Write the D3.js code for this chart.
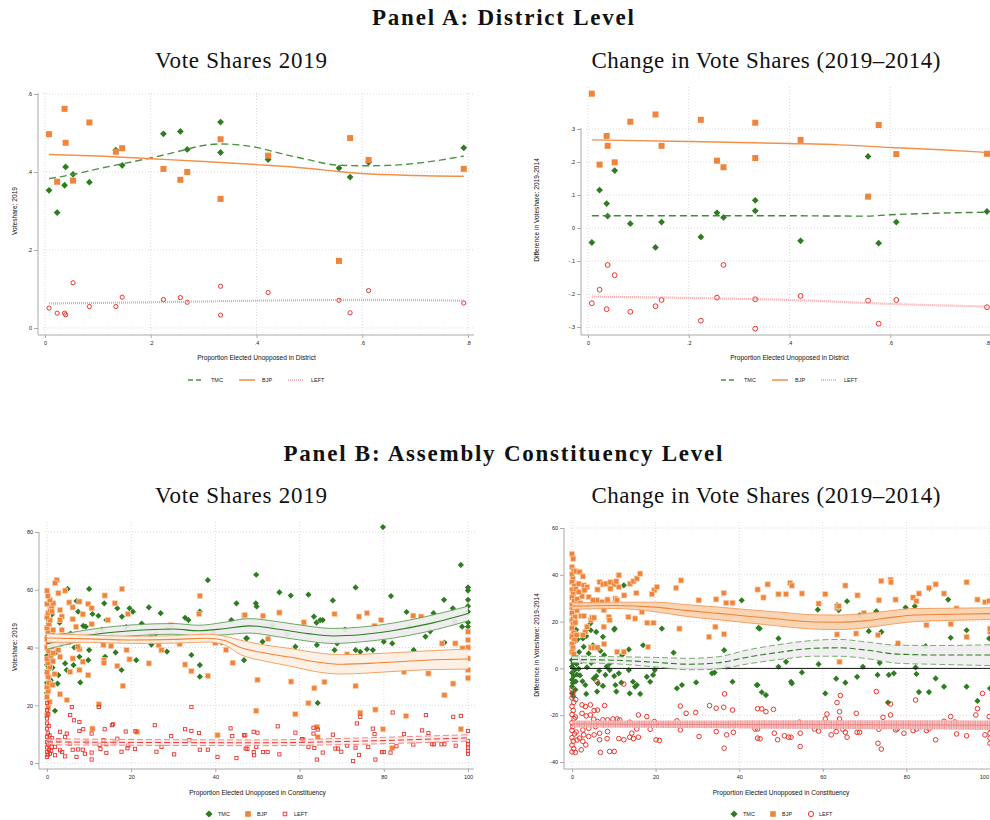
<!DOCTYPE html>
<html><head><meta charset="utf-8">
<script src="https://cdn.jsdelivr.net/npm/d3@7"></script>
<style>body{margin:0;background:#fff;} svg{display:block;}</style>
</head><body>
<script>
// ---------------- DATA ----------------
// Panel A (district level): shared x = proportion elected unopposed
const aX = [0.0076,0.023,0.037,0.039,0.053,0.084,0.134,0.146,0.224,0.256,0.269,0.332,0.332,0.422,0.556,0.577,0.612,0.792];
const aVsTmc  = [0.353,0.296,0.366,0.413,0.394,0.374,0.456,0.417,0.498,0.504,0.458,0.528,0.450,0.432,0.410,0.387,0.425,0.462];
const aVsBjp  = [0.497,0.375,0.562,0.475,0.378,0.527,0.452,0.461,0.408,0.380,0.400,0.484,0.331,0.442,0.172,0.487,0.431,0.408];
const aVsLeft = [0.051,0.038,0.038,0.034,0.116,0.055,0.055,0.079,0.073,0.078,0.066,0.107,0.033,0.091,0.071,0.039,0.096,0.064];
const aChTmc  = [-0.044,0.115,0.074,0.036,0.174,0.013,-0.059,0.018,-0.027,0.046,0.032,0.084,0.052,-0.039,0.217,-0.046,0.018,0.050];
const aChBjp  = [0.407,0.192,0.279,0.249,0.199,0.322,0.344,0.249,0.328,0.204,0.184,0.319,0.212,0.267,0.095,0.312,0.224,0.225];
const aChLeft = [-0.228,-0.187,-0.246,-0.112,-0.143,-0.254,-0.237,-0.218,-0.281,-0.211,-0.112,-0.216,-0.305,-0.206,-0.220,-0.290,-0.218,-0.240];
// Panel A fitted lines
const aVsTmcFitX = [0.0076,0.05,0.1,0.15,0.2,0.25,0.3,0.33,0.4,0.45,0.5,0.55,0.6,0.65,0.7,0.75,0.792];
const aVsTmcFit  = [0.383,0.393,0.408,0.422,0.436,0.452,0.468,0.472,0.463,0.446,0.431,0.418,0.416,0.417,0.422,0.431,0.441];
const aVsBjpFitX = [0.0076,0.1,0.2,0.3,0.4,0.5,0.55,0.6,0.7,0.792];
const aVsBjpFit  = [0.445,0.441,0.434,0.427,0.419,0.409,0.402,0.396,0.391,0.389];
const aVsLeftFitX = [0.0076,0.2,0.4,0.6,0.792];
const aVsLeftFit  = [0.063,0.066,0.070,0.072,0.070];
const aChBjpFitX = [0.0076,0.2,0.4,0.5,0.6,0.7,0.792];
const aChBjpFit  = [0.267,0.262,0.256,0.252,0.244,0.237,0.229];
const aChTmcFitX = [0.0076,0.2,0.4,0.55,0.6,0.7,0.792];
const aChTmcFit  = [0.037,0.037,0.037,0.036,0.040,0.045,0.048];
const aChLeftFitX = [0.0076,0.2,0.4,0.6,0.792];
const aChLeftFit  = [-0.208,-0.212,-0.218,-0.230,-0.238];
const aXTicks = [0,0.2,0.4,0.6,0.8];
const aVsYTicks = [0,0.2,0.4,0.6];
const aChYTicks = [-0.3,-0.2,-0.1,0,0.1,0.2,0.3];

// Panel B (assembly constituency level): [x, y] pairs
const bVsTmc = [[0,24.3],[0.2,26.5],[0,27.8],[0.3,29.9],[0,31.2],[0.5,32.6],[0,34],[0.2,35.8],[0,37.1],[0.6,38.4],[0,40.2],[0.3,42],[0,43.6],[0.8,45.1],[0,46.7],[0.4,48.3],[0,50.2],[1.2,51.5],[0.5,47.8],[0.1,39.3],[1,36],[1.3,33],[0.9,28.7],[1.5,44.2],[1.1,41.6],
[1.9,18.1],[2.5,27.5],[2.7,30.4],[4.3,34.5],[4.7,32.2],[6.3,33.9],[7.7,36.8],[9.8,35.6],[10,39.1],[13.8,36.8],[16.3,38.3],[17.7,32.2],[21.2,35.6],[7.9,27.9],[4.9,60.3],[10,60.3],[7,56.1],[24.2,53.9],[27,51.9],[19.6,53.6],[20.4,52.4],[16.7,53.6],[13.6,55.3],[12.2,51],[10.8,51.6],[7.4,52.4],[8.6,47.5],[9.2,47.2],[13,46.1],[17.8,50.7],[14.1,49.5],[32.8,50.3],[33.6,49.5],[36.3,52.4],[45,55.3],[43.8,49.5],[36.3,33.9],[36.3,29.9],[34.3,37.4],[47.3,43.2],[38.2,63.3],[2.2,38.5],[3.4,41.3],[5.6,44.8],[3,48.6],[6.5,40],[11.5,42.6],[15.3,44.1],[18.8,47.1],[22.5,48.3],[25.8,44.8],[29,46.8],[31,42.5],[39.5,45.2],[41.5,41.8],[28.5,38.6],[24.8,41],
[49.7,65.2],[49.6,55.3],[49.8,54.2],[55.2,59.1],[57.9,58],[62.1,58.3],[67.9,56.3],[73.3,60.8],[79.8,81.7],[81.7,57.8],[85.4,52.3],[91.8,51.9],[94.3,56.5],[96.4,53.6],[98.3,68.6],[100,60.8],[100,59.7],[100,56.5],[100,48.7],[100,47.2],[98.6,47.2],[96.9,49],[63.4,50.7],[64,48.6],[64.9,49.5],[65.5,49.5],[47.5,43.2],[51.2,42],[59,40.3],[64.1,40.9],[68.3,39.1],[68.9,41.4],[73.3,39.1],[74.4,38.5],[76,39.4],[77.4,39.1],[80,42],[82,41.4],[87.1,39.1],[94.4,41.7],[64.3,20.8],[46.8,35.6],[89.9,43.8],[100,52.4],[100,54.3],[53.5,47.6],[70.8,46.2],[86,47.1],[91,45.6],[57,44.6]];
const bVsBjp = [[0,16.6],[0.3,19.2],[0.6,21.2],[0,22.8],[0.3,24.9],[0,26.4],[0.5,27.7],[0.3,29.9],[0,31.4],[0.7,33.3],[0.2,34.6],[0,36.1],[0.9,37.2],[0.4,38.9],[0,40.1],[1.1,40.3],[0.3,41.7],[0,42.9],[0.6,44.4],[0.2,45.5],[0,46.8],[1.5,46.1],[0.4,48.1],[0.7,49.5],[0,50.6],[0.3,51.9],[0.8,53.1],[1.1,54.2],[0,55.1],[1.5,55.3],[0.7,56.5],[0,59.7],[0.2,57.8],[1.2,52.5],[1.6,43.2],[1.4,35.2],[1.8,30.8],[1.3,27.1],
[2.3,63.4],[1.9,62.3],[2.7,58.8],[3.1,53],[3.5,50.7],[3.1,49.5],[3.5,46.1],[1.5,38],[2.7,39.1],[3.1,36.8],[3.1,23.8],[4.7,21.8],[5.5,31.6],[6.1,36.2],[6.1,49.8],[5.3,55.6],[6.1,53.9],[4.3,59.7],[7.7,55.9],[8.5,51.5],[6.9,47.2],[7.7,39.4],[7.3,40.3],[7.7,32.2],[8.5,35.1],[9.8,55.1],[10.6,48.1],[9.8,30.4],[10.6,53.6],[12.3,20.3],[10.8,11.9],[13.7,58],[13.5,35.6],[13.5,34.7],[13.4,40.9],[14.5,49.5],[16.1,55.3],[16.7,33.6],[15.2,40.5],[17.8,60.3],[18,26.7],[18.9,39.1],[19.2,51.6],[19.6,35.9],[21.4,10.8],[24.2,34.5],[32.8,34.1],[34.3,31.8],[36.3,57.9],[36.1,51.6],[38.2,30.2],[40.5,9.6],[29.5,47.8],[24.8,44.3],[27.2,39.1],[44.1,34.7],[46.8,51],[4.2,44],[5,41.8],[9.2,43.5],[12,45.2],[21.8,42.6],[26.5,40.8],[31.5,41.2],[36.5,44.3],[40,41.6],[42.5,39.2],
[47,51.3],[51.3,51],[55.2,52.1],[50,28.8],[49.7,18.1],[58,28.2],[59,16.9],[61,48.7],[62.1,20.7],[63.5,25.9],[65.9,28.1],[64.1,12.5],[64.3,9],[68.3,51.6],[71.3,37.6],[73.3,26.7],[74.1,50.7],[76,51.9],[77.8,47.5],[79.4,49.5],[78,18.5],[74.4,17.4],[79.8,11.7],[85.3,16.3],[82,5.2],[84.8,31.6],[87,51],[90.6,31],[93.8,41.4],[94.4,23.5],[96.5,27.5],[97,41.4],[98.3,11.7],[98.7,39.7],[100,45.5],[100,42.6],[100,36.2],[100,32.2],[100,29.4],[100,40],[88.9,50.7],[56.5,37],[66.5,33.5],[83,36.8],[52.5,43]];
const bVsLeft = [[0,20.8],[0,18.3],[0,15.4],[0,13.7],[0,11.9],[0.2,10.3],[0,9.1],[0.4,8],[0,7.2],[0.3,6.3],[0,5.4],[0.5,4.6],[0,3.8],[0.2,2.9],[0,2.1],[0.6,9.6],[0.8,6.9],[0.4,12.8],[0.3,16.9],[1,4.2],[1.2,8.6],
[5.9,19.4],[5.5,16.6],[6.4,14.8],[7.7,14.2],[7.7,11.1],[8.6,11.7],[3.1,10.8],[4.7,10.2],[10.6,10.2],[12.3,19.4],[13.7,11.7],[15.4,13.1],[15.7,13.4],[18.7,10.9],[21,11],[25.6,13.1],[32.8,11.7],[34.3,11.1],[36.1,10.4],[34.3,19.4],[29.5,9.3],[33.8,7.9],[36.3,4.6],[26,3.9],[30.2,3],[27.2,5.6],[38.2,4.6],[40.5,2.1],[43.6,12],[44,9.3],[45,1.7],[47.2,5],[46.8,9.6],[10.6,1.2],[10.6,3.6],[12.7,4.9],[12.5,6.3],[14.1,3.5],[14.1,6.5],[16.1,7.1],[16.7,8.4],[17.7,3.9],[19.3,6.1],[19.1,5.1],[20.9,4.9],[13.4,7.9],[7,2.1],[9.4,7.3],[7.4,4.7],[8.5,4.6],[6.1,4.6],[4.3,2.3],[3.6,3.8],[1.9,5.6],[2.7,7.9],[1.9,2.7],[0.7,3.2],[3.1,4.4],[5.5,6.7],[4.3,9],[9,3.2],[0.7,7.9],[1.1,5.6],
[47.1,9.6],[49.1,10.8],[50,10.5],[54.8,12.7],[59,10.5],[60.6,8.3],[63.3,12.2],[64.3,11.6],[63.3,10.2],[67.9,9.8],[47.6,4.9],[49.1,3.8],[49.2,2.7],[51.3,3.8],[52.4,3.8],[55.2,3],[62.1,5.6],[63.5,5.2],[65.5,3.6],[64.1,1.2],[68.5,5],[69.1,5],[69.9,3.9],[71.3,6],[72.7,0.7],[73.3,5.3],[74.1,2.8],[73.6,13.7],[74.4,16],[76.3,5.6],[77.4,11.9],[77.8,10],[78,1.2],[79.6,3.8],[80,3.8],[81.6,3.6],[82.1,17.5],[83,5.8],[84.8,10],[87,6.4],[89.1,11.3],[90,16.6],[90.6,10.4],[91.5,6.5],[91.9,6.5],[93.7,6.5],[94.4,6.5],[96.5,16],[98.3,16.3],[97.1,6],[100,11.1],[100,7.6],[100,6.5],[100,5.3],[100,4.2],[100,3.2],[60.9,8.1],[49.7,5.6]];

const bChTmc = [[0,25.8],[0.2,23.1],[0,21],[0.4,19.3],[0,17.2],[0.3,15],[0,13.1],[0.6,11.4],[0,9.8],[0.2,8.2],[0,6.7],[0.5,5.1],[0,3.6],[0.3,2.2],[0,0.8],[0.7,-0.6],[0,-1.9],[0.4,-3.3],[0,-4.8],[0.2,-6.2],[0,-7.7],[0.8,-9.1],[0,-10.6],[0.3,-11.9],[1.2,-2.6],[1.1,1.9],[1.4,4.4],[0.9,-5.6],[1.6,-0.2],[1.3,12.3],[1,16.5],
[12.4,35.5],[2.6,12.8],[4.5,16.3],[5.8,15.6],[7.4,13.5],[10.1,16.6],[5,9.9],[2.8,9.2],[6.8,7.5],[4,6.4],[7.7,5.7],[9,2.1],[9,-0.7],[11.2,-2.1],[10.1,-3.3],[8,-2.8],[5.8,-3.3],[5.2,-4.3],[3.2,-7.1],[3.4,-10.9],[6,-9.9],[6.2,-6.4],[7.4,-7.5],[10.6,-9.9],[10.4,-7.1],[11.8,-6.1],[13.8,-10.7],[13.6,-0.7],[14.6,-5.7],[15.1,-7.8],[16.3,-10.9],[15.5,-7.1],[17.9,-3.6],[18.7,-5.7],[19.4,-2.8],[19.8,-0.7],[17,9.9],[13.6,8.1],[10.2,17],[21.5,17],[24.3,6.7],[25.1,-8.5],[26.3,-7.1],[29.7,-6],[33.5,-2.1],[34.1,-1.8],[36.4,7.8],[37,0.7],[38.4,-5.7],[40.6,29.1],[44.4,-7.1],[44.9,17],[4.4,19.2],[3.4,13.8],[12,5.7],[2.2,3.1],[3.6,0.5],[1.9,-3],[2.5,-5.5],[4.6,2.4],[6.5,-1],[8.3,0.8],[1.7,7],
[44.2,-7.1],[44.6,17.3],[45.4,-10.2],[46.4,-11.4],[49.4,12.8],[49.4,0.7],[51.2,2.8],[52.4,-5.7],[52.6,-6.4],[55,-1.7],[58.8,25.1],[59,1.8],[60.6,-10.7],[63.4,27],[63.8,24.9],[63.2,-4.4],[65.4,-6.1],[65.8,28.7],[68.2,-3.6],[68.8,22.7],[69.6,0.7],[71,15.9],[72.8,24.4],[73.1,-2.8],[73.6,2.4],[74,15.6],[75.8,-2.8],[75.6,-14.6],[77,-2.1],[79.8,26],[82,26.6],[82.2,0.4],[82.4,-2.4],[83,-10.1],[84.6,9.5],[85.4,-10.1],[85.5,34.1],[87,-4.3],[89,-7.8],[90,29.4],[90.6,13.1],[94.4,-7.8],[94.4,16.3],[97,-13.9],[99.8,12.8],[100,-8.5]];
const bChBjp = [[0,48.9],[0.3,46.9],[0,43.3],[0.4,41.8],[0,40.1],[0.2,38.3],[0,36.9],[0.6,35.2],[0,33.6],[0.3,31.9],[0,30.3],[0.5,28.7],[0,27.1],[0.2,25.4],[0,23.6],[0.7,22],[0,20.4],[0.3,18.9],[0,17.1],[0.4,15.2],[0,13.6],[0.6,12],[0,10.4],[0.2,8.8],[0,7.1],[0.4,6.2],[1,41.5],[0.9,33.9],[1.2,24.8],[0.8,19.6],[1.1,14.3],[1.3,29.6],
[1.8,41.2],[2.6,39.3],[1.6,36.2],[2.8,35.5],[3.6,34.8],[3,33.4],[4,30.5],[2.4,30.8],[1.6,32.7],[2.2,22.4],[2.8,22.4],[4.5,20.6],[4.8,21.7],[5.3,21.7],[3.6,17.8],[3.2,15.6],[2.6,14.2],[4.5,8.9],[5.3,8.9],[6.1,8.9],[6.6,36.9],[6.1,33.7],[7.4,35.9],[8.2,36.2],[9.2,36.8],[10.1,35.9],[10.6,37.2],[11.2,34.8],[9.2,34.1],[6,29.1],[7.2,28.4],[8.5,29.4],[10.4,29.8],[10.8,29.1],[7.6,24.9],[8.8,22],[9,20.6],[7.6,17.8],[7.7,10.4],[10.8,7.1],[12.4,7.1],[11.2,39.8],[12.5,31.2],[13.9,36.2],[14.7,37.2],[15.5,38.4],[16.3,40.5],[15.4,32.2],[13.5,22],[15.1,21.3],[16.7,24.1],[18,19.5],[19.5,19.5],[19.7,33.4],[20.3,34.8],[19.1,31.7],[18.2,9.2],[24.9,34.4],[26.1,37.6],[25.7,17],[30.3,29.1],[32.8,13.5],[34.3,17.8],[34.5,29.5],[36.3,32.2],[36.4,14.6],[36.9,28],[38.4,28],[44.4,33.7],[5,29.1],[3.8,26.5],[2,27.8],
[45.8,30.3],[46.8,35.9],[49.4,31.7],[51.2,31.7],[52.2,36.5],[52.6,35.4],[55,32],[59,27.7],[60.6,31.7],[63.4,26],[63.8,26.6],[65.4,35.4],[63.4,14.5],[64,2.8],[68,14.9],[68.3,31.2],[69.8,23.7],[73.2,14.2],[73.4,29.1],[74,37.4],[76.2,37.9],[76.3,36.8],[77.4,29.4],[81.6,30.3],[82.4,28.7],[83,32],[84.8,18.5],[85.4,34.4],[87,35.9],[89,32],[90.6,18.9],[92,25.6],[94.4,36.8],[94.4,13.5],[97,29.4],[98.8,28.3],[99.8,28.8],[100,15.6],[100,17],[78,10.7]];
const bChLeft = [[0,-9],[0.2,-10.8],[0,-12.6],[0.4,-14.5],[0,-16.2],[0.3,-18],[0,-19.7],[0.5,-21.5],[0,-23.2],[0.2,-24.8],[0,-26.5],[0.6,-28],[0,-29.6],[0.3,-31.1],[0,-32.8],[0.4,-34.3],[0,-35.7],[0.8,-20.8],[1,-27.2],[0.9,-13.3],[1.2,-30.6],
[6,-5.7],[12.4,-6.7],[2.4,-15.6],[3.2,-16.3],[4.4,-15.6],[5.3,-18],[6.1,-17.8],[7.8,-15.9],[2.4,-19.2],[3.4,-20.3],[4.4,-19.9],[5.2,-21.7],[6.1,-22.7],[7.4,-22],[8.5,-22],[9.8,-21.6],[10.8,-21.6],[11.4,-22],[9.2,-23.4],[7.7,-24.1],[5.6,-24.9],[4,-25.6],[2.6,-26.3],[2.8,-28.4],[4,-29.1],[5.3,-28.4],[6.6,-27.7],[8.5,-27],[1.8,-29.8],[2.6,-31.2],[3.3,-32.7],[2.2,-34.8],[0.8,-35.9],[6.8,-35.9],[9,-35.5],[10.1,-35.5],[6.6,-30.5],[8.4,-30],[11.2,-30],[12.4,-30.5],[13.8,-29.4],[14.7,-30],[15.9,-29.4],[15.5,-25.9],[14.3,-27.7],[13.8,-23],[15.9,-19.9],[17.9,-20.6],[18.7,-26],[19.7,-22.7],[20.1,-30.5],[20.9,-30.8],[25.1,-22.4],[25.9,-26.3],[25.9,-16.1],[27.3,-19.2],[29.6,-18.8],[30.4,-29.1],[32.9,-15.9],[34.5,-17],[34.5,-27],[36.3,-16.6],[36.5,-10.9],[36.4,-34.1],[37,-28.4],[38.4,-17.8],[38.6,-27.3],[44.4,-17.2],[44.4,-25.9],[44.4,-29.8],
[45.4,-17.3],[46.4,-18.5],[48.2,-17.5],[43.8,-25.9],[45,-30.1],[48.4,-27.7],[49.2,-30.5],[50.8,-28.8],[51.8,-29.4],[52.4,-29.4],[54.6,-27.7],[54.6,-33.4],[54.4,-23],[58,-25.9],[59,-26.8],[60.6,-21.6],[61,-19.5],[62,-28.4],[63.2,-27],[63.4,-14.6],[64.2,-11.6],[64,-18.5],[64,-21.6],[64.8,-26],[65.4,-27.3],[65.8,-29.4],[68,-19.2],[68.2,-27.3],[68.8,-27.3],[72.8,-9.9],[73.2,-32],[74,-34.5],[73.4,-26],[74.4,-20.9],[76.2,-15.2],[76.2,-19.9],[77.4,-26.3],[77.8,-25.9],[79.4,-27.7],[81.6,-26.6],[82.2,-13.5],[82.4,-25.9],[84.8,-26.6],[85.4,-25.9],[87,-30.5],[89,-22.6],[90.6,-20.6],[91.6,-22.9],[92,-28],[94.4,-28.8],[96.6,-19.9],[97,-17.2],[98.2,-10.7],[98.8,-28.4],[99.8,-20.6],[100,-27.7],[100,-29.8],[100,-32],[100,-25.6]];

// Panel B local-polynomial fits with confidence bands
const bVsTmcBandX = [0,5,10,20,30,36,42,48,55,62,68,75,82,90,100];
const bVsTmcFit   = [41.3,43,44.3,45.8,46.4,45.8,46.5,47.5,46.3,44.8,44,44.5,45.8,48,51.8];
const bVsTmcLo    = [39.4,41.2,42.7,44,44.6,44,44.4,45,43.7,42.2,41.4,42,43.2,45.4,49.2];
const bVsTmcHi    = [44.1,45,46.2,47.8,48.3,47.7,48.7,50,48.9,47.4,46.6,47.1,48.4,50.7,54.3];
const bVsBjpBandX = [0,10,20,30,38,42,46,52,58,64,70,80,90,100];
const bVsBjpFit   = [43.3,43,42.6,42.8,43.2,42.5,40,38,36.6,35,34.2,34.8,35.6,36];
const bVsBjpLo    = [41.8,41.8,41.4,41.5,41.9,41,37.5,35.2,33.5,31.6,30.8,31.5,32.3,32.5];
const bVsBjpHi    = [44.8,44.3,43.9,44.1,44.6,44,42.5,40.8,39.6,38.2,37.5,38,38.8,39.5];
const bVsLeftBandX = [0,25,50,75,100];
const bVsLeftFit   = [7.3,7.1,7,7.6,8.7];
const bVsLeftLo    = [6.3,6.1,6,6.5,7.6];
const bVsLeftHi    = [8.4,8.1,8,8.7,9.8];
const bChBjpBandX = [0,10,20,27,35,42,50,58,64,70,76,82,90,100];
const bChBjpFit   = [26.6,26.9,26.2,24.8,23.5,22.3,21,19.8,19.7,20.3,21.7,22.8,23.1,23.4];
const bChBjpLo    = [25.2,25.6,24.2,22.3,20.8,19.5,18,16.8,16.6,17.3,18.8,20,20.5,20.9];
const bChBjpHi    = [28,28.3,28.3,27.3,26.2,25.1,24,22.9,22.8,23.4,24.6,25.6,25.7,25.9];
const bChTmcBandX = [0,10,20,28,35,42,50,58,64,70,78,88,100];
const bChTmcFit   = [3.8,3.5,2.6,1.8,2.4,4.8,7,8.6,8.8,7.9,6.1,5.7,5.7];
const bChTmcLo    = [2.4,2,0.6,-0.6,-0.2,1.9,3.9,5.2,5.2,4.3,2.2,1.7,1.2];
const bChTmcHi    = [5.3,5,4.7,4.3,5,7.9,10.3,12,12.4,11.4,9.9,9.8,10.1];
const bChLeftBandX = [0,25,50,75,100];
const bChLeftFit   = [-23.8,-23.9,-24,-24.1,-24.3];
const bChLeftLo    = [-25.3,-25.5,-25.8,-26,-26.3];
const bChLeftHi    = [-22.3,-22.3,-22.2,-22.2,-22.3];
const bXTicks = [0,20,40,60,80,100];
const bVsYTicks = [0,20,40,60,80];
const bChYTicks = [-40,-20,0,20,40,60];
const seriesNames = ["TMC","BJP","LEFT"];

// ---------------- DRAWING ----------------
const C = {tmc:"#2e7b22", bjp:"#f0843a", left:"#e8352c"};
const SANS = "'Liberation Sans', Arial, sans-serif";
const SERIF = "'Liberation Serif', 'Times New Roman', serif";
const svg = d3.select("body").append("svg").attr("width",990).attr("height",820);

const fmtDec = d => d===0 ? "0" : (d<0?"-":"") + Math.abs(d).toFixed(1).replace(/^0/,"");
const fmtInt = d => String(d);

function panel(o){
  const g = svg.append("g");
  const x = d3.scaleLinear().domain(o.xd).range(o.xr);
  const y = d3.scaleLinear().domain(o.yd).range(o.yr);
  const grid = g.append("g");
  grid.selectAll("line.h").data(o.yt).join("line").attr("class","h")
    .attr("x1",o.gx0).attr("x2",o.gx1).attr("y1",d=>y(d)).attr("y2",d=>y(d))
    .attr("stroke","#d2d2d2").attr("stroke-width",0.8).attr("stroke-dasharray","1,2");
  grid.selectAll("line.v").data(o.xt).join("line").attr("class","v")
    .attr("x1",d=>x(d)).attr("x2",d=>x(d)).attr("y1",o.gy0).attr("y2",o.axY)
    .attr("stroke","#d2d2d2").attr("stroke-width",0.8).attr("stroke-dasharray","1,2");
  g.append("line").attr("x1",o.axX).attr("x2",o.axX).attr("y1",o.ay0).attr("y2",o.axY).attr("stroke","#aaa").attr("stroke-width",1);
  g.append("line").attr("x1",o.axX).attr("x2",o.ax1).attr("y1",o.axY).attr("y2",o.axY).attr("stroke","#aaa").attr("stroke-width",1);
  const ya = g.append("g").attr("transform",`translate(${o.axX},0)`)
    .call(d3.axisLeft(y).tickValues(o.yt).tickFormat(o.fy).tickSize(4).tickPadding(2));
  const xa = g.append("g").attr("transform",`translate(0,${o.axY})`)
    .call(d3.axisBottom(x).tickValues(o.xt).tickFormat(o.fx).tickSize(3).tickPadding(3));
  [ya,xa].forEach(a=>{
    a.select(".domain").remove();
    a.selectAll("line").attr("stroke","#aaa");
    a.selectAll("text").attr("font-size",5.5).attr("fill","#222").attr("font-family",SANS);
  });
  // keep a tick label that would fall past the right edge inside the picture
  xa.selectAll(".tick").filter(d=>x(d)>984).select("text").attr("text-anchor","end").attr("dx",-1.5);
  g.append("text").attr("transform",`translate(${o.ytX},${o.ytY}) rotate(-90)`)
    .attr("text-anchor","middle").attr("font-family",SANS).attr("font-size",6.6).attr("fill","#111").text(o.ytitle);
  g.append("text").attr("x",(o.xr[0]+o.xr[1])/2).attr("y",o.xtY).attr("text-anchor","middle")
    .attr("font-family",SANS).attr("font-size",6.6).attr("fill","#111").text(o.xtitle);
  return {g,x,y};
}

const dPath = r => `M0,${-r}L${r},0L0,${r}L${-r},0Z`;
function diamonds(g,data,x,y,r){
  g.append("g").selectAll("path").data(data).join("path").attr("d",dPath(r))
    .attr("transform",d=>`translate(${x(d[0])},${y(d[1])})`).attr("fill",C.tmc);
}
function squares(g,data,x,y,s,halo){
  g.append("g").selectAll("rect").data(data).join("rect")
    .attr("x",d=>x(d[0])-s/2).attr("y",d=>y(d[1])-s/2).attr("width",s).attr("height",s)
    .attr("fill",C.bjp).attr("stroke",halo?"#fad2b2":"none").attr("stroke-width",halo?0.7:0);
}
function hollowSquares(g,data,x,y,s){
  g.append("g").selectAll("rect").data(data).join("rect")
    .attr("x",d=>x(d[0])-s/2).attr("y",d=>y(d[1])-s/2).attr("width",s).attr("height",s)
    .attr("fill","none").attr("stroke",C.left).attr("stroke-width",0.9);
}
function circles(g,data,x,y,r){
  g.append("g").selectAll("circle").data(data).join("circle")
    .attr("cx",d=>x(d[0])).attr("cy",d=>y(d[1])).attr("r",r)
    .attr("fill","none").attr("stroke",C.left).attr("stroke-width",1);
}
function fitLine(g,xs,ys,x,y,stroke,w,dash){
  const ln = d3.line().x(d=>x(d[0])).y(d=>y(d[1])).curve(d3.curveMonotoneX);
  g.append("path").datum(d3.zip(xs,ys)).attr("d",ln).attr("fill","none")
    .attr("stroke",stroke).attr("stroke-width",w).attr("stroke-dasharray",dash||null);
}
function band(g,xs,lo,hi,x,y,fill,op){
  const ar = d3.area().x(d=>x(d[0])).y0(d=>y(d[1])).y1(d=>y(d[2])).curve(d3.curveMonotoneX);
  g.append("path").datum(d3.zip(xs,lo,hi)).attr("d",ar).attr("fill",fill).attr("fill-opacity",op);
}

// hatch pattern for LEFT band (Panel B right)
const defs = svg.append("defs");
const pat = defs.append("pattern").attr("id","hatch").attr("patternUnits","userSpaceOnUse").attr("width",2.4).attr("height",10);
pat.append("rect").attr("width",2.4).attr("height",10).attr("fill","#f6caca");
pat.append("line").attr("x1",1).attr("x2",1).attr("y1",0).attr("y2",10).attr("stroke","#ec8a8a").attr("stroke-width",0.9);

// Titles
function title(txt,x,y,bold,len){
  const t = svg.append("text").attr("x",x).attr("y",y).attr("text-anchor","middle")
    .attr("font-family",SERIF).attr("font-size",23).attr("font-weight",bold?"bold":"normal").attr("fill","#111").text(txt);
  if(len) t.attr("textLength",len).attr("lengthAdjust","spacing");
}
title("Panel A: District Level",503,25,true,262);
title("Vote Shares 2019",241,68,false,172);
title("Change in Vote Shares (2019–2014)",766,68,false,349);
title("Panel B: Assembly Constituency Level",503,461,true,439);
title("Vote Shares 2019",241,503,false,172);
title("Change in Vote Shares (2019–2014)",766,503,false,349);

// ---------- Panel A left ----------
{
  const p = panel({xd:[0,0.8],xr:[45,468],yd:[0,0.6],yr:[328,94],xt:aXTicks,yt:aVsYTicks,fx:fmtDec,fy:fmtDec,
    gx0:43,gx1:475,gy0:93,axX:38,ax1:474,ay0:93,axY:335,ytX:17,ytY:211,ytitle:"Voteshare: 2019",xtY:360,
    xtitle:"Proportion Elected Unopposed in District"});
  diamonds(p.g,d3.zip(aX,aVsTmc),p.x,p.y,3.4);
  squares(p.g,d3.zip(aX,aVsBjp),p.x,p.y,6,false);
  circles(p.g,d3.zip(aX,aVsLeft),p.x,p.y,2.1);
  fitLine(p.g,aVsTmcFitX,aVsTmcFit,p.x,p.y,"#4a9440",1.4,"7,4");
  fitLine(p.g,aVsBjpFitX,aVsBjpFit,p.x,p.y,"#f2904a",1.4);
  fitLine(p.g,aVsLeftFitX,aVsLeftFit,p.x,p.y,"#f08a8a",2.2,"0.8,1.2");
}
// ---------- Panel A right ----------
{
  const p = panel({xd:[0,0.8],xr:[588,991],yd:[-0.3,0.3],yr:[327,129],xt:aXTicks,yt:aChYTicks,fx:fmtDec,fy:fmtDec,
    gx0:586,gx1:990,gy0:87,axX:581,ax1:990,ay0:128,axY:335,ytX:539,ytY:210,ytitle:"Difference in Voteshare: 2019-2014",xtY:360,
    xtitle:"Proportion Elected Unopposed in District"});
  diamonds(p.g,d3.zip(aX,aChTmc),p.x,p.y,3.4);
  squares(p.g,d3.zip(aX,aChBjp),p.x,p.y,6,false);
  circles(p.g,d3.zip(aX,aChLeft),p.x,p.y,2.4);
  fitLine(p.g,aChTmcFitX,aChTmcFit,p.x,p.y,"#3f8a35",1.4,"7,4");
  fitLine(p.g,aChBjpFitX,aChBjpFit,p.x,p.y,"#f2904a",1.4);
  fitLine(p.g,aChLeftFitX,aChLeftFit,p.x,p.y,"#f08a8a",2.2,"0.8,1.2");
}
// Panel A legends
function lineLegend(x0,yy){
  const g = svg.append("g");
  const st = [["#4a9440",1.4,"5,3"],["#f5a060",1.8,null],["#f0a0a0",2.2,"0.8,1.2"]];
  const offs = [0,51,100];
  seriesNames.forEach((n,i)=>{
    g.append("line").attr("x1",x0+offs[i]).attr("x2",x0+offs[i]+16).attr("y1",yy).attr("y2",yy)
      .attr("stroke",st[i][0]).attr("stroke-width",st[i][1]).attr("stroke-dasharray",st[i][2]);
    g.append("text").attr("x",x0+offs[i]+23).attr("y",yy+2).attr("font-family",SANS).attr("font-size",5.5).attr("fill","#222").text(n);
  });
}
lineLegend(188,380);
lineLegend(721,380);

// ---------- Panel B left ----------
{
  const p = panel({xd:[0,100],xr:[47,468],yd:[0,80],yr:[763,532],xt:bXTicks,yt:bVsYTicks,fx:fmtInt,fy:fmtInt,
    gx0:45,gx1:475,gy0:522,axX:39,ax1:474,ay0:532,axY:769,ytX:17,ytY:647,ytitle:"Voteshare: 2019",xtY:795,
    xtitle:"Proportion Elected Unopposed in Constituency"});
  diamonds(p.g,bVsTmc,p.x,p.y,3.1);
  squares(p.g,bVsBjp,p.x,p.y,5.2,true);
  hollowSquares(p.g,bVsLeft,p.x,p.y,3.2);
  band(p.g,bVsTmcBandX,bVsTmcLo,bVsTmcHi,p.x,p.y,"#ededed",0.92);
  fitLine(p.g,bVsTmcBandX,bVsTmcLo,p.x,p.y,"#5e9e52",0.9);
  fitLine(p.g,bVsTmcBandX,bVsTmcHi,p.x,p.y,"#5e9e52",0.9);
  fitLine(p.g,bVsTmcBandX,bVsTmcFit,p.x,p.y,"#2e7b22",1.1);
  band(p.g,bVsBjpBandX,bVsBjpLo,bVsBjpHi,p.x,p.y,"#fdf0e4",0.95);
  fitLine(p.g,bVsBjpBandX,bVsBjpLo,p.x,p.y,"#f29a5a",0.9);
  fitLine(p.g,bVsBjpBandX,bVsBjpHi,p.x,p.y,"#f29a5a",0.9);
  fitLine(p.g,bVsBjpBandX,bVsBjpFit,p.x,p.y,"#f0843a",1.1);
  band(p.g,bVsLeftBandX,bVsLeftLo,bVsLeftHi,p.x,p.y,"#fbe0e0",0.6);
  fitLine(p.g,bVsLeftBandX,bVsLeftLo,p.x,p.y,"#ef7a74",0.9,"6,3");
  fitLine(p.g,bVsLeftBandX,bVsLeftHi,p.x,p.y,"#ef7a74",0.9,"6,3");
  fitLine(p.g,bVsLeftBandX,bVsLeftFit,p.x,p.y,"#e8352c",1,"6,3");
}
// ---------- Panel B right ----------
{
  const p = panel({xd:[0,100],xr:[572,990],yd:[-40,60],yr:[762,528],xt:bXTicks,yt:bChYTicks,fx:fmtInt,fy:fmtInt,
    gx0:570,gx1:990,gy0:522,axX:564,ax1:990,ay0:528,axY:769,ytX:539,ytY:645,ytitle:"Difference in Voteshare: 2019-2014",xtY:795,
    xtitle:"Proportion Elected Unopposed in Constituency"});
  diamonds(p.g,bChTmc,p.x,p.y,3.1);
  squares(p.g,bChBjp,p.x,p.y,5.2,true);
  circles(p.g,bChLeft,p.x,p.y,2.3);
  p.g.append("line").attr("x1",p.x(0)-2).attr("x2",990).attr("y1",p.y(0)).attr("y2",p.y(0)).attr("stroke","#111").attr("stroke-width",1);
  band(p.g,bChBjpBandX,bChBjpLo,bChBjpHi,p.x,p.y,"#f9d3b0",0.95);
  fitLine(p.g,bChBjpBandX,bChBjpLo,p.x,p.y,"#f29a5a",0.9);
  fitLine(p.g,bChBjpBandX,bChBjpHi,p.x,p.y,"#f29a5a",0.9);
  fitLine(p.g,bChBjpBandX,bChBjpFit,p.x,p.y,"#f0843a",1.1);
  band(p.g,bChTmcBandX,bChTmcLo,bChTmcHi,p.x,p.y,"#eeeeee",0.9);
  fitLine(p.g,bChTmcBandX,bChTmcLo,p.x,p.y,"#6aa35e",0.9,"6,3");
  fitLine(p.g,bChTmcBandX,bChTmcHi,p.x,p.y,"#6aa35e",0.9,"6,3");
  fitLine(p.g,bChTmcBandX,bChTmcFit,p.x,p.y,"#2e7b22",1.1,"6,3");
  band(p.g,bChLeftBandX,bChLeftLo,bChLeftHi,p.x,p.y,"url(#hatch)",1);
  fitLine(p.g,bChLeftBandX,bChLeftFit,p.x,p.y,"#ec8080",1);
}
// Panel B legends
function markerLegend(x0,yy,circ){
  const g = svg.append("g");
  g.append("path").attr("d",dPath(3.6)).attr("transform",`translate(${x0},${yy})`).attr("fill",C.tmc);
  g.append("text").attr("x",x0+9).attr("y",yy+2).attr("font-family",SANS).attr("font-size",5.5).attr("fill","#222").text(seriesNames[0]);
  g.append("rect").attr("x",x0+39-2.8).attr("y",yy-2.8).attr("width",5.6).attr("height",5.6).attr("fill",C.bjp);
  g.append("text").attr("x",x0+48).attr("y",yy+2).attr("font-family",SANS).attr("font-size",5.5).attr("fill","#222").text(seriesNames[1]);
  if(circ) g.append("circle").attr("cx",x0+77).attr("cy",yy).attr("r",2.6).attr("fill","none").attr("stroke",C.left).attr("stroke-width",1);
  else g.append("rect").attr("x",x0+76-1.8).attr("y",yy-1.8).attr("width",3.6).attr("height",3.6).attr("fill","none").attr("stroke",C.left).attr("stroke-width",0.9);
  g.append("text").attr("x",x0+85).attr("y",yy+2).attr("font-family",SANS).attr("font-size",5.5).attr("fill","#222").text(seriesNames[2]);
}
markerLegend(209,814,false);
markerLegend(734,814,true);
</script></body></html>
